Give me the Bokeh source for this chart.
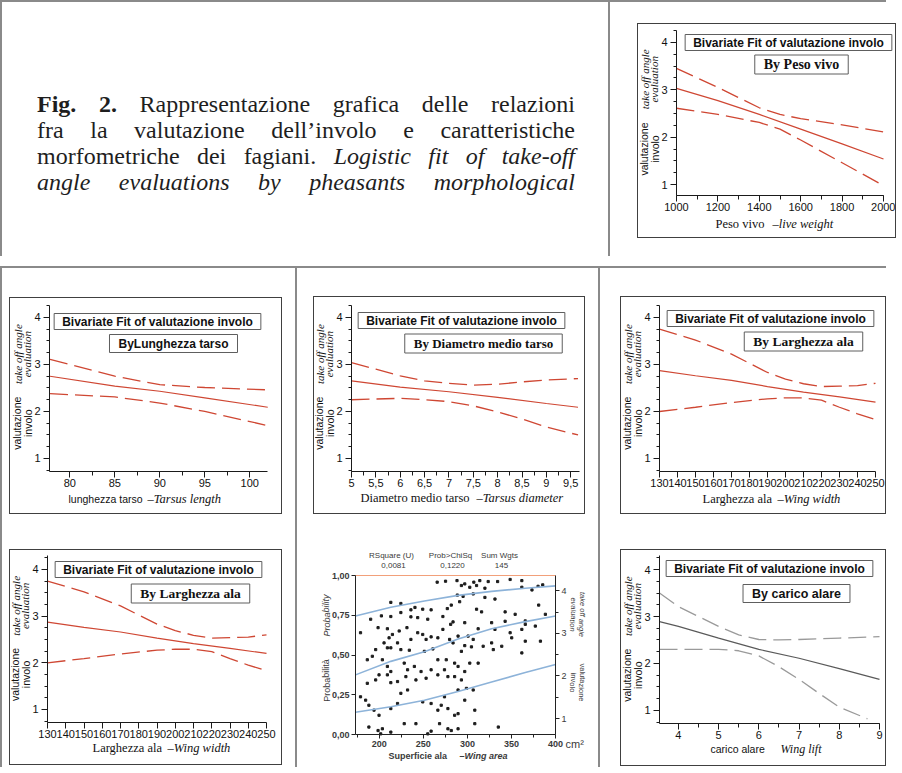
from bokeh.plotting import figure
from bokeh.models import (Range1d, LinearAxis, Label, Spacer, Div, FixedTicker,
                          SingleIntervalTicker, CustomJSTickFormatter)
from bokeh.layouts import row, column
from bokeh.embed import file_html
from bokeh.resources import INLINE

# ---------------- data ----------------
# Peso vivo (live weight)
peso_fit_x = [1000, 1200, 1400, 1600, 1800, 2000]
peso_fit_y = [3.03, 2.77, 2.48, 2.17, 1.86, 1.54]
peso_band_x = [1000, 1200, 1400, 1500, 1600, 1800, 2000]
peso_up_y = [3.45, 3.05, 2.62, 2.48, 2.39, 2.26, 2.11]
peso_lo_y = [2.61, 2.48, 2.31, 2.17, 1.94, 1.46, 0.98]

# Lunghezza tarso (tarsus length)
tarso_x = [77.8, 85, 90, 95, 102]
tarso_fit_y = [2.75, 2.54, 2.43, 2.29, 2.09]
tarso_up_y = [3.11, 2.75, 2.57, 2.51, 2.46]
tarso_lo_y = [2.38, 2.31, 2.18, 2.00, 1.70]

# Diametro medio tarso (tarsus diameter)
diam_fit_x = [5, 6, 7, 8, 9, 9.65]
diam_fit_y = [2.65, 2.52, 2.42, 2.30, 2.17, 2.09]
diam_up_x = [5, 5.5, 6, 6.5, 7, 7.5, 8, 8.5, 9, 9.65]
diam_up_y = [3.04, 2.90, 2.76, 2.65, 2.60, 2.56, 2.58, 2.63, 2.67, 2.70]
diam_lo_x = [5, 6, 6.5, 7, 7.5, 8, 8.5, 9, 9.65]
diam_lo_y = [2.25, 2.28, 2.25, 2.21, 2.12, 1.99, 1.84, 1.67, 1.50]

# Larghezza ala (wing width)
larg_fit_x = [130, 150, 170, 190, 210, 230, 250]
larg_fit_y = [2.87, 2.76, 2.66, 2.53, 2.41, 2.31, 2.20]
larg_band_x = [130, 150, 170, 190, 200, 210, 220, 230, 240, 250]
larg_up_y = [3.75, 3.52, 3.22, 2.83, 2.69, 2.59, 2.53, 2.54, 2.55, 2.60]
larg_lo_y = [2.00, 2.09, 2.19, 2.27, 2.29, 2.29, 2.24, 2.09, 1.95, 1.83]

# Carico alare (wing lift)
car_fit_x = [3.53, 4, 5, 6, 7, 8, 9]
car_fit_y = [2.89, 2.79, 2.54, 2.30, 2.11, 1.89, 1.66]
car_up_x = [3.53, 4, 4.5, 5, 5.5, 6, 6.5, 7, 8, 9]
car_up_y = [3.50, 3.21, 3.00, 2.79, 2.61, 2.51, 2.50, 2.51, 2.54, 2.57]
car_lo_x = [3.53, 4, 5, 5.5, 6, 6.5, 7, 7.5, 8, 8.7]
car_lo_y = [2.30, 2.30, 2.30, 2.27, 2.16, 1.93, 1.66, 1.36, 1.07, 0.82]

# Superficie ala (wing area, cm2) - logistic probability plot
sup_curve_x = [173, 213.1, 251.2, 289.4, 327.5, 365.7, 400]
sup_c1_y = [0.745, 0.80, 0.84, 0.875, 0.90, 0.92, 0.935]
sup_c2_y = [0.375, 0.46, 0.52, 0.60, 0.665, 0.71, 0.745]
sup_c3_y = [0.14, 0.175, 0.215, 0.27, 0.33, 0.39, 0.44]
sup_pts_x = [
    265.7, 275.2, 288.2, 293.2, 297.0, 302.7, 307.3, 310.4, 314.1, 319.9, 323.6, 334.3, 348.5, 361.8, 380.2,
    385.5, 373.3, 361.8, 213.1, 224.5, 240.5, 235.9, 249.3, 258.8, 277.2, 281.7, 288.6, 291.2, 295.1, 306.6,
    310.4, 319.9, 331.3, 342.8, 354.2, 365.7, 380.9, 190.2, 202.4, 213.1, 224.5, 235.9, 243.6, 255.0, 272.2,
    283.7, 297.0, 316.1, 327.5, 342.8, 388.5,
    178.7, 198.6, 209.2, 211.1, 214.9, 222.6, 231.4, 243.6, 249.3, 258.8, 272.2, 281.0, 289.4, 300.8, 312.2,
    331.3, 348.5, 361.8, 365.7, 377.1, 205.4, 213.1, 220.7, 235.9, 253.1, 266.5, 279.8, 283.7, 297.0, 306.6,
    317.9, 327.5, 339.0, 350.3, 365.7, 382.9, 195.9, 209.2, 224.5, 234.1, 251.2, 260.8, 293.2, 304.6, 329.4,
    361.8, 192.1, 186.4, 203.5, 209.2, 213.1, 228.3, 232.1, 239.8, 247.4, 258.8, 266.5, 276.0, 285.5, 289.4,
    297.0, 302.7, 312.2, 293.2,
    178.7, 186.4, 195.9, 199.7, 209.2, 213.1, 220.7, 230.2, 241.6, 253.1, 266.5, 274.0, 277.9, 285.5, 289.4,
    298.9, 306.6, 184.5, 188.2, 194.0, 199.7, 213.1, 220.7, 224.5, 232.1, 249.3, 258.8, 266.5, 270.3, 274.0,
    277.9, 285.5, 289.4, 297.0, 308.4, 188.2, 198.6, 203.5, 213.1, 228.3, 241.6, 255.0, 268.4, 277.9, 281.7,
    289.4, 335.1, 308.4, 201.6, 258.8]
sup_pts_y = [
    0.958, 0.964, 0.968, 0.937, 0.947, 0.926, 0.958, 0.937, 0.968, 0.920, 0.962, 0.962, 0.975, 0.968, 0.932,
    0.941, 0.909, 0.926, 0.831, 0.824, 0.799, 0.784, 0.788, 0.784, 0.792, 0.814, 0.877, 0.835, 0.869, 0.884,
    0.788, 0.862, 0.852, 0.771, 0.756, 0.714, 0.814, 0.725, 0.746, 0.742, 0.767, 0.740, 0.735, 0.725, 0.742,
    0.708, 0.703, 0.771, 0.703, 0.712, 0.756,
    0.640, 0.672, 0.665, 0.608, 0.629, 0.651, 0.672, 0.640, 0.629, 0.614, 0.661, 0.693, 0.619, 0.619, 0.665,
    0.661, 0.640, 0.661, 0.693, 0.682, 0.576, 0.545, 0.576, 0.598, 0.598, 0.608, 0.598, 0.576, 0.559, 0.598,
    0.555, 0.576, 0.555, 0.608, 0.587, 0.587, 0.534, 0.545, 0.534, 0.530, 0.523, 0.538, 0.523, 0.551, 0.534,
    0.513, 0.492, 0.470, 0.470, 0.428, 0.396, 0.449, 0.407, 0.428, 0.396, 0.407, 0.470, 0.470, 0.449, 0.428,
    0.396, 0.449, 0.449, 0.343,
    0.237, 0.322, 0.343, 0.375, 0.375, 0.326, 0.333, 0.364, 0.343, 0.354, 0.375, 0.407, 0.364, 0.364, 0.280,
    0.290, 0.280, 0.216, 0.184, 0.153, 0.121, 0.163, 0.195, 0.259, 0.280, 0.205, 0.195, 0.153, 0.184, 0.237,
    0.163, 0.121, 0.131, 0.216, 0.153, 0.047, 0.025, 0.036, 0.015, 0.068, 0.068, 0.004, 0.068, 0.036, 0.025,
    0.036, 0.047, 0.068, 0.004, 0.021]
sup_stats_names = ["RSquare (U)", "Prob>ChiSq", "Sum Wgts"]
sup_stats_vals = ["0,0081", "0,1220", "145"]

# ---------------- styling helpers ----------------
RED = "#cf4733"
GREY_SOLID = "#5a5a5a"
GREY_DASH = "#9a9a9a"
DASH = "18 7"
SEP = "#8a8a8a"
SANS = "Liberation Sans"
SERIF = "Liberation Serif"


def put(p, el, x, y, text, size, font=SANS, style="normal", align="left",
        baseline="middle", angle=0.0, color="#111111", box=None, lh=1.2):
    """Text label at page position (x, y); el = element box (x0, y0, x1, y1)."""
    kw = {}
    if box is not None:
        kw.update(background_fill_color="white", border_line_color="#5e5e5e",
                  border_line_width=1,
                  padding=dict(left=box[0], right=box[0], top=box[1], bottom=box[1]))
    p.add_layout(Label(x=x - el[0], y=el[3] - y, x_units="screen", y_units="screen",
                       text=text, text_font=font, text_font_size=f"{size}px",
                       text_font_style=style, text_align=align, text_baseline=baseline,
                       text_line_height=lh, angle=angle, text_color=color, **kw))


def full_ranges(el, fr, xr, yr):
    ex0, ey0, ex1, ey1 = el
    fx0, fy0, fx1, fy1 = fr
    sx = (xr[1] - xr[0]) / (fx1 - fx0)
    sy = (yr[1] - yr[0]) / (fy1 - fy0)
    X = (xr[0] - (fx0 - ex0) * sx, xr[1] + (ex1 - fx1) * sx)
    Y = (yr[0] - (ey1 - fy1) * sy, yr[1] + (fy0 - ey0) * sy)
    return X, Y


def style_axis(ax, size="11px", color="#1a1a1a"):
    ax.axis_line_color = color
    ax.major_tick_line_color = color
    ax.minor_tick_line_color = color
    ax.major_tick_in = 0
    ax.minor_tick_in = 0
    ax.major_label_text_font = SANS
    ax.major_label_text_font_size = size
    ax.major_label_text_color = "#111111"


def make_panel(box, fr, xr, yr, xint, xminor, xfmt=None):
    bx0, by0, bx1, by1 = box
    el = (bx0 + 1, by0 + 1, bx1, by1)
    X, Y = full_ranges(el, fr, xr, yr)
    p = figure(width=el[2] - el[0], height=el[3] - el[1],
               x_range=Range1d(*X), y_range=Range1d(*Y),
               output_backend="svg", toolbar_location=None, min_border=0)
    p.styles = {"outline": "1px solid #404040"}
    p.outline_line_color = None
    p.grid.visible = False
    p.background_fill_color = "white"
    p.border_fill_color = "white"
    xa, ya = p.below[0], p.left[0]
    style_axis(xa)
    style_axis(ya)
    xa.fixed_location = yr[0]
    xa.bounds = xr
    ya.fixed_location = xr[0]
    ya.bounds = yr
    xa.ticker = SingleIntervalTicker(interval=xint, num_minor_ticks=xminor)
    xa.major_tick_out = 6
    xa.minor_tick_out = 4
    xa.major_label_standoff = 1
    if xfmt is not None:
        xa.formatter = xfmt
    ya.ticker = SingleIntervalTicker(interval=1, num_minor_ticks=4)
    ya.major_tick_out = 6
    ya.minor_tick_out = 3
    ya.major_label_standoff = 3
    # rotated y-axis titles
    fy0, fy1 = fr[1], fr[3]
    y_of = lambda v: fy1 - (v - yr[0]) / (yr[1] - yr[0]) * (fy1 - fy0)
    put(p, el, fr[0] - 27, y_of(1.75), "valutazione\ninvolo", 10.5, align="center",
        angle=1.5708, lh=0.85)
    put(p, el, fr[0] - 27, y_of(3.22), "take off angle\nevaluation", 11, font=SERIF,
        style="italic", align="center", angle=1.5708, lh=0.8)
    return p, el


def fit_lines(p, fx, fy, ux, uy, lx, ly, c_solid=RED, c_dash=RED):
    p.line(ux, uy, line_color=c_dash, line_width=1.3, line_dash=DASH)
    p.line(lx, ly, line_color=c_dash, line_width=1.3, line_dash=DASH)
    p.line(fx, fy, line_color=c_solid, line_width=1.2)


def titles(p, el, c1, c2, t2, f2, s2):
    put(p, el, c1[0], c1[1], "Bivariate Fit of valutazione involo", 12, style="bold",
        align="center", box=(8, 1))
    put(p, el, c2[0], c2[1], t2, s2, font=f2, style="bold", align="center", box=(9, 2))


def xtitle(p, el, t1, x1, f1, s1, t2, x2, f2, s2, y):
    put(p, el, x1, y, t1, s1, font=f1)
    put(p, el, x2, y, t2, s2, font=f2, style="italic")


comma = CustomJSTickFormatter(code="return String(tick).replace('.', ',');")

# ---------------- top-right: Peso vivo ----------------
p_tr, e = make_panel((635, 31, 893, 245), (674, 38, 881, 203), (1000, 2000), (0.77, 4.25), 200, 2)
fit_lines(p_tr, peso_fit_x, peso_fit_y, peso_band_x, peso_up_y, peso_band_x, peso_lo_y)
titles(p_tr, e, (786, 50), (799, 72), "By Peso vivo", SERIF, 14)
xtitle(p_tr, e, "Peso vivo", 713, SERIF, 12.5, "\u2013live weight", 770, SERIF, 12.5, 231)

# ---------------- row 2 ----------------
YR2 = (0.723, 4.255)
p_21, e = make_panel((17, 295, 289, 511), (57, 303, 275, 469), (77.74, 101.97), YR2, 5, 2)
fit_lines(p_21, tarso_x, tarso_fit_y, tarso_x, tarso_up_y, tarso_x, tarso_lo_y)
titles(p_21, e, (165, 319), (181, 341), "ByLunghezza tarso", SANS, 12)
xtitle(p_21, e, "lunghezza tarso", 76, SANS, 10.5, "\u2013Tarsus length", 155, SERIF, 12.5, 496)

p_22, e = make_panel((321, 294, 592, 511), (359, 303, 587, 469), (5, 9.68), YR2, 0.5, 2, comma)
fit_lines(p_22, diam_fit_x, diam_fit_y, diam_up_x, diam_up_y, diam_lo_x, diam_lo_y)
titles(p_22, e, (469, 318), (491, 341), "By Diametro medio tarso", SERIF, 13)
xtitle(p_22, e, "Diametro medio tarso", 368, SERIF, 12.5, "\u2013Tarsus diameter", 484, SERIF, 12.5, 495)

p_23, e = make_panel((628, 294, 893, 511), (667, 303, 883, 469), (130, 250), YR2, 10, 0)
fit_lines(p_23, larg_fit_x, larg_fit_y, larg_band_x, larg_up_y, larg_band_x, larg_lo_y)
titles(p_23, e, (778, 316), (811, 339), "By Larghezza ala", SERIF, 13.5)
xtitle(p_23, e, "Larghezza ala", 710, SERIF, 12.5, "\u2013Wing width", 785, SERIF, 12.5, 496)

# ---------------- row 3 ----------------
YR3 = (0.72, 4.30)
p_31, e = make_panel((17, 547, 289, 762), (55, 553, 274, 720), (130, 250), YR3, 10, 0)
fit_lines(p_31, larg_fit_x, larg_fit_y, larg_band_x, larg_up_y, larg_band_x, larg_lo_y)
titles(p_31, e, (166, 567), (198, 591), "By Larghezza ala", SERIF, 13.5)
xtitle(p_31, e, "Larghezza ala", 100, SERIF, 12.5, "\u2013Wing width", 175, SERIF, 12.5, 745)

p_33, e = make_panel((628, 547, 893, 763), (667, 553, 887, 721), (3.53, 9), YR3, 1, 2)
fit_lines(p_33, car_fit_x, car_fit_y, car_up_x, car_up_y, car_lo_x, car_lo_y,
          c_solid=GREY_SOLID, c_dash=GREY_DASH)
titles(p_33, e, (777, 566), (804, 591), "By carico alare", SANS, 12.5)
xtitle(p_33, e, "carico alare", 718, SANS, 10.5, "Wing lift", 788, SERIF, 12, 746)

# ---------------- row 3 middle: Superficie ala ----------------
el = (305, 517, 606, 765)
fr = (363, 573, 563, 732)
SX, SY = full_ranges(el, fr, (173, 400), (0, 1))
V0, V1 = 0.627, 4.358          # right axis (valutazione) at prob 0 and prob 1
p_32 = figure(width=el[2] - el[0], height=el[3] - el[1], x_range=Range1d(*SX), y_range=Range1d(*SY),
              output_backend="svg", toolbar_location=None, min_border=0)
p_32.outline_line_color = None
p_32.grid.visible = False
p_32.extra_y_ranges = {"v": Range1d(V0 + SY[0] * (V1 - V0), V0 + SY[1] * (V1 - V0))}
rax = LinearAxis(y_range_name="v", ticker=SingleIntervalTicker(interval=1, num_minor_ticks=2))
p_32.add_layout(rax, "right")
top_ax = LinearAxis(ticker=FixedTicker(ticks=[]))
p_32.add_layout(top_ax, "above")
xa, ya = p_32.below[0], p_32.left[0]
ya.ticker = SingleIntervalTicker(interval=0.25, num_minor_ticks=0)
ya.formatter = CustomJSTickFormatter(code="return tick.toFixed(2).replace('.', ',');")
xa.ticker = SingleIntervalTicker(interval=50, num_minor_ticks=2)
for ax in (xa, ya, rax, top_ax):
    style_axis(ax, size="9px", color="#222222")
    ax.major_tick_out = 4
    ax.minor_tick_out = 3
    ax.major_label_text_font_style = "bold"
    ax.major_label_text_color = "#3a3a3a"
    ax.major_label_standoff = 2
xa.fixed_location = 0
xa.bounds = (173, 400)
ya.fixed_location = 173
ya.bounds = (0, 1)
rax.fixed_location = 400
rax.bounds = (V0, V1)
rax.major_label_text_font_style = "normal"
top_ax.fixed_location = 1
top_ax.bounds = (173, 400)
top_ax.axis_line_color = "#f2a07a"
top_ax.axis_line_width = 1.2
p_32.scatter(sup_pts_x, sup_pts_y, marker="square", size=2.2, color="#1c1c1c")
for cy in (sup_c1_y, sup_c2_y, sup_c3_y):
    p_32.line(sup_curve_x, cy, line_color="#8db3d9", line_width=1.6)
for i, (nm, vl) in enumerate(zip(sup_stats_names, sup_stats_vals)):
    cx = [399, 458, 507][i]
    put(p_32, el, cx, 553, nm, 8, color="#3a3a3a", align="center")
    put(p_32, el, cx + 2, 563, vl, 8, color="#3a3a3a", align="center")
put(p_32, el, 334, 613, "Probability", 9, style="italic", color="#3a3a3a", align="center", angle=1.5708)
put(p_32, el, 334, 678, "Probabilit\u00e0", 9, color="#3a3a3a", align="center", angle=1.5708)
put(p_32, el, 585, 612, "take off angle\nevaluation", 7.5, style="italic", color="#3a3a3a",
    align="center", angle=-1.5708, lh=1.0)
put(p_32, el, 585, 680, "valutazione\ninvolo", 7.5, color="#3a3a3a", align="center",
    angle=-1.5708, lh=1.0)
put(p_32, el, 573, 741, "cm\u00b2", 11, color="#3a3a3a")
put(p_32, el, 396, 753, "Superficie ala", 9, color="#3a3a3a", style="bold")
put(p_32, el, 467, 753, "\u2013Wing area", 9, color="#3a3a3a", style="bold italic")

# ---------------- caption ----------------
caption = Div(width=540, height=112, text=(
    "<div style=\"font-family:'Liberation Serif';font-size:24px;line-height:26px;"
    "text-align:justify;text-align-last:justify;color:#1e1e1e;width:538px;\">"
    "<b>Fig. 2.</b> Rappresentazione grafica delle relazioni<br>"
    "fra la valutazione dell\u2019involo e caratteristiche<br>"
    "morfometriche dei fagiani. <i>Logistic fit of take-off</i><br>"
    "<i>angle evaluations by pheasants morphological</i></div>"))

# ---------------- layout ----------------
def vsep(h):
    return Spacer(width=2, height=h, styles={"background-color": SEP})


def hsep(w):
    return Spacer(width=w, height=2, styles={"background-color": SEP})


def place(obj, cw, ch, left, top, w, h):
    parts = []
    if top > 0:
        parts.append(Spacer(width=cw, height=top))
    items = []
    if left > 0:
        items.append(Spacer(width=left, height=h))
    items.append(obj)
    r = cw - left - w
    if r > 0:
        items.append(Spacer(width=r, height=h))
    parts.append(row(*items))
    b = ch - top - h
    if b > 0:
        parts.append(Spacer(width=cw, height=b))
    return column(*parts)


# page x: cell A 10..302, cell B 305..605, cell C 608..893
row1 = row(vsep(254),
           place(caption, 596, 254, 30, 84, 540, 112),
           vsep(254),
           place(p_tr, 286, 254, 28, 22, p_tr.width, p_tr.height))
row2 = row(vsep(251),
           place(p_21, 293, 251, 8, 30, p_21.width, p_21.height),
           vsep(251),
           place(p_22, 301, 251, 17, 29, p_22.width, p_22.height),
           vsep(251),
           place(p_23, 286, 251, 21, 29, p_23.width, p_23.height))
row3 = row(vsep(248),
           place(p_31, 293, 248, 8, 31, p_31.width, p_31.height),
           vsep(248),
           place(p_32, 301, 248, 0, 0, 301, 248),
           vsep(248),
           place(p_33, 286, 248, 21, 31, p_33.width, p_33.height))

page = column(hsep(886), row1, hsep(886), row2, row3)

open("out.html", "w").write(file_html(page, INLINE))
